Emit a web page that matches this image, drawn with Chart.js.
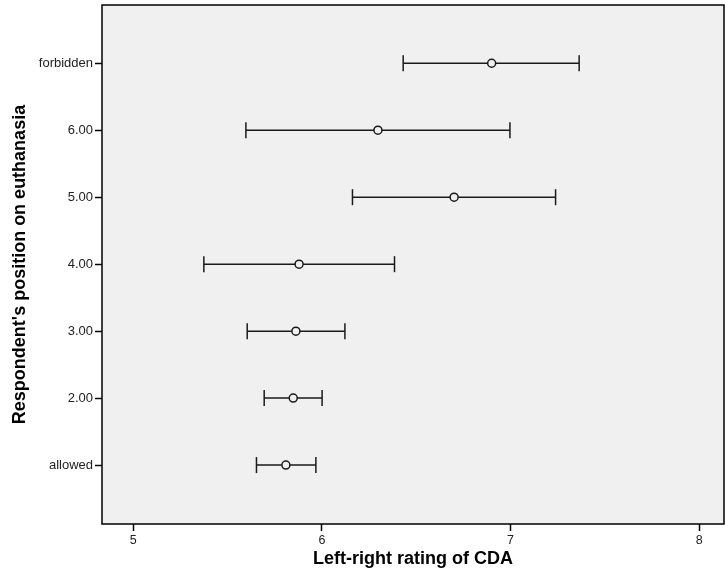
<!DOCTYPE html>
<html>
<head>
<meta charset="utf-8">
<script src="https://cdn.jsdelivr.net/npm/chart.js@4/dist/chart.umd.min.js"></script>
<style>
  html, body { margin: 0; padding: 0; background: #fff; }
  #wrap { width: 725px; height: 581px; }
</style>
</head>
<body>
<div id="wrap"><canvas id="chart" width="725" height="581"></canvas></div>
<script>
// categories bottom -> top (y index 0..6)
const categories = ["allowed", "2.00", "3.00", "4.00", "5.00", "6.00", "forbidden"];
const means = [5.809, 5.848, 5.862, 5.879, 6.701, 6.297, 6.900];
const lows  = [5.653, 5.694, 5.604, 5.374, 6.162, 5.597, 6.431];
const highs = [5.968, 6.001, 6.122, 6.385, 7.239, 6.997, 7.364];
const xTicks = [5, 6, 7, 8];

const lineColor = "#1a1a1a";
const plotBg = "#f0f0f0";

const meanPoints = means.map((m, i) => ({ x: m, y: i }));
const barPoints = [];
categories.forEach((c, i) => {
  barPoints.push({ x: lows[i], y: i });
  barPoints.push({ x: highs[i], y: i });
  barPoints.push({ x: null, y: null });
});

const framePlugin = {
  id: "frame",
  beforeDraw(chart) {
    const { ctx, chartArea: a } = chart;
    ctx.save();
    ctx.fillStyle = plotBg;
    ctx.fillRect(a.left, a.top, a.right - a.left, a.bottom - a.top);
    ctx.restore();
  },
  afterDraw(chart) {
    const { ctx, chartArea: a } = chart;
    ctx.save();
    ctx.strokeStyle = "#000";
    ctx.lineWidth = 1.5;
    ctx.strokeRect(a.left, a.top, a.right - a.left, a.bottom - a.top);
    ctx.restore();
  }
};

new Chart(document.getElementById("chart"), {
  type: "scatter",
  data: {
    datasets: [
      {
        label: "Mean",
        data: meanPoints,
        pointStyle: "circle",
        pointRadius: 4,
        pointBackgroundColor: plotBg,
        pointBorderColor: lineColor,
        pointBorderWidth: 1.5,
        showLine: false
      },
      {
        label: "95% CI",
        data: barPoints,
        showLine: true,
        spanGaps: false,
        borderColor: lineColor,
        borderWidth: 1.5,
        pointStyle: "line",
        pointRotation: 90,
        pointRadius: 8,
        pointBorderColor: lineColor,
        pointBorderWidth: 1.5
      }
    ]
  },
  options: {
    responsive: false,
    animation: false,
    layout: { autoPadding: false, padding: { left: 0, top: 5, right: 1, bottom: 0 } },
    plugins: {
      legend: { display: false },
      tooltip: { enabled: false }
    },
    scales: {
      x: {
        type: "linear",
        min: 4.834,
        max: 8.132,
        afterBuildTicks: (axis) => { axis.ticks = xTicks.map(v => ({ value: v })); },
        afterFit: (axis) => { axis.height = 57; axis.paddingLeft = 0; axis.paddingRight = 0; },
        border: { display: false },
        grid: { drawOnChartArea: false, drawTicks: true, tickLength: 7, tickColor: "#000", tickWidth: 1.5 },
        ticks: { padding: 2, color: "#222", font: { family: "Arial, 'Liberation Sans'", size: 12.5 } },
        title: {
          display: true,
          text: "Left-right rating of CDA",
          color: "#000",
          padding: { top: 0, bottom: 11 },
          font: { family: "Arial, 'Liberation Sans'", size: 18, weight: "bold" }
        }
      },
      y: {
        type: "linear",
        min: -0.88,
        max: 6.87,
        afterBuildTicks: (axis) => { axis.ticks = categories.map((c, i) => ({ value: i })); },
        afterFit: (axis) => { axis.width = 102; axis.paddingTop = 0; axis.paddingBottom = 0; },
        border: { display: false },
        grid: { drawOnChartArea: false, drawTicks: true, tickLength: 7, tickColor: "#000", tickWidth: 1.5 },
        ticks: {
          padding: 2,
          color: "#222",
          font: { family: "Arial, 'Liberation Sans'", size: 13 },
          callback: (v) => categories[v]
        },
        title: {
          display: true,
          text: "Respondent's position on euthanasia",
          color: "#000",
          padding: { top: 9, bottom: 0 },
          font: { family: "Arial, 'Liberation Sans'", size: 18, weight: "bold" }
        }
      }
    }
  },
  plugins: [framePlugin]
});
</script>
</body>
</html>
